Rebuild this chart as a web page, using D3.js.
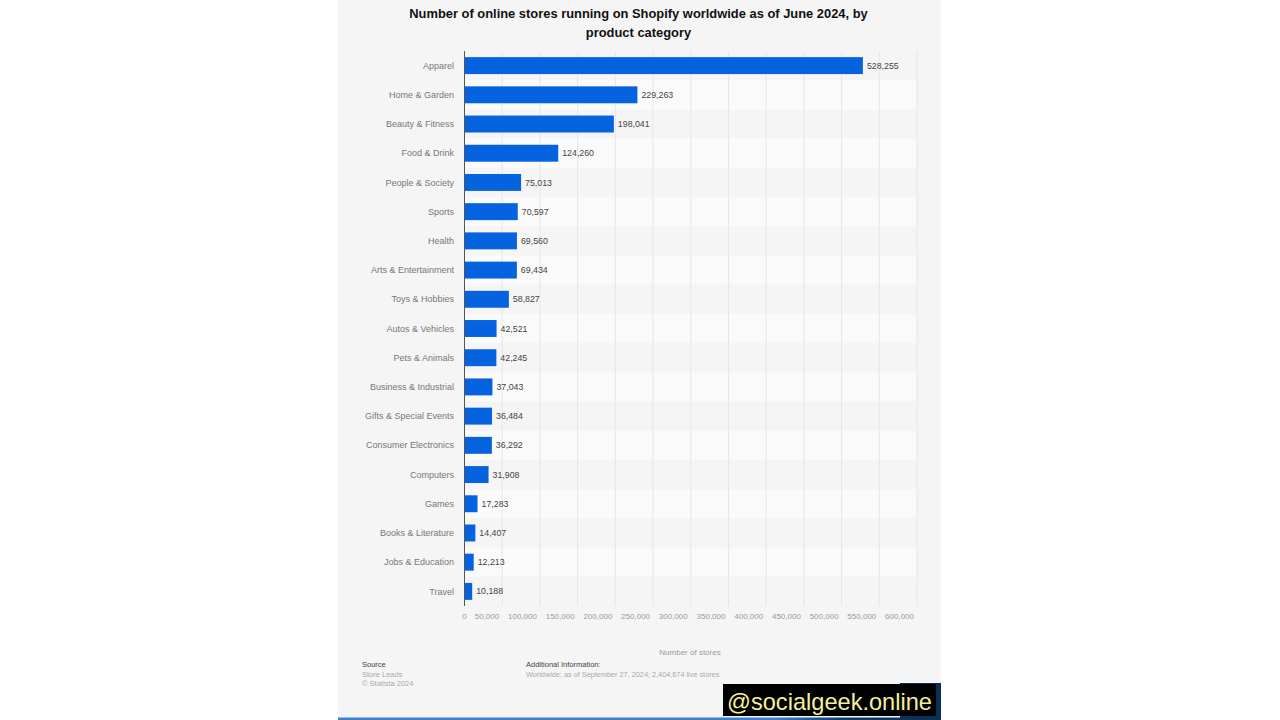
<!DOCTYPE html>
<html>
<head>
<meta charset="utf-8">
<script src="https://cdn.jsdelivr.net/npm/d3@7"></script>
<style>
html, body { margin: 0; padding: 0; background: #fff; }
svg { display: block; }
text { font-family: "Liberation Sans", Arial, sans-serif; }
</style>
</head>
<body>
<svg id="chart" width="1280" height="720"></svg>
<script>
var categories = ["Apparel", "Home & Garden", "Beauty & Fitness", "Food & Drink", "People & Society", "Sports", "Health",
  "Arts & Entertainment", "Toys & Hobbies", "Autos & Vehicles", "Pets & Animals", "Business & Industrial",
  "Gifts & Special Events", "Consumer Electronics", "Computers", "Games", "Books & Literature", "Jobs & Education", "Travel"];
var stores = [528255, 229263, 198041, 124260, 75013, 70597, 69560, 69434, 58827, 42521, 42245, 37043, 36484, 36292, 31908, 17283, 14407, 12213, 10188];
var xTicks = [0, 50000, 100000, 150000, 200000, 250000, 300000, 350000, 400000, 450000, 500000, 550000, 600000];
var titleLines = ["Number of online stores running on Shopify worldwide as of June 2024, by", "product category"];

var svg = d3.select("#chart");
var fmt = d3.format(",");

// panel
svg.append("rect").attr("x", 338).attr("y", 0).attr("width", 603).attr("height", 720).attr("fill", "#f5f5f5");

var x = d3.scaleLinear().domain([0, 600000]).range([464.5, 917]);
var y = d3.scaleBand().domain(categories).range([51, 606]).paddingInner(0.42).paddingOuter(0.21);
var rowStep = y.step();

// stripes behind the bars
svg.append("g").selectAll("rect").data(categories).enter().append("rect")
  .attr("x", x(0))
  .attr("y", function(d){ return y(d) - (rowStep - y.bandwidth()) / 2; })
  .attr("width", x(600000) - x(0))
  .attr("height", rowStep)
  .attr("fill", function(d, i){ return i % 2 ? "#fafafa" : "#f5f5f5"; });

// grid
svg.append("g").selectAll("line").data(xTicks.slice(1)).enter().append("line")
  .attr("x1", function(d){ return x(d); })
  .attr("x2", function(d){ return x(d); })
  .attr("y1", 51).attr("y2", 606)
  .attr("stroke", "#e6e6e6").attr("stroke-width", 1);

svg.selectAll(".bar").data(stores).enter().append("rect")
  .attr("class", "bar")
  .attr("x", x(0))
  .attr("y", function(d, i){ return y(categories[i]); })
  .attr("width", function(d){ return x(d) - x(0); })
  .attr("height", y.bandwidth())
  .attr("fill", "#0663e0");

svg.append("line").attr("x1", x(0)).attr("x2", x(0)).attr("y1", 51).attr("y2", 606)
  .attr("stroke", "#555").attr("stroke-width", 1);

svg.selectAll(".val").data(stores).enter().append("text")
  .attr("class", "val")
  .attr("x", function(d){ return x(d) + 4; })
  .attr("y", function(d, i){ return y(categories[i]) + y.bandwidth() / 2; })
  .attr("dy", "0.35em")
  .attr("font-size", 8.8)
  .attr("fill", "#444")
  .text(function(d){ return fmt(d); });

svg.selectAll(".cat").data(categories).enter().append("text")
  .attr("class", "cat")
  .attr("x", 454)
  .attr("y", function(d){ return y(d) + y.bandwidth() / 2; })
  .attr("dy", "0.35em")
  .attr("text-anchor", "end")
  .attr("font-size", 9)
  .attr("fill", "#777")
  .text(function(d){ return d; });

// tick labels sit just left of their gridline, only the 0 is centred
svg.selectAll(".tick-label").data(xTicks).enter().append("text")
  .attr("class", "tick-label")
  .attr("x", function(d){ return d === 0 ? x(d) : x(d) - 3; })
  .attr("y", 618.5)
  .attr("text-anchor", function(d){ return d === 0 ? "middle" : "end"; })
  .attr("font-size", 8)
  .attr("fill", "#999")
  .text(function(d){ return fmt(d); });

svg.selectAll(".title").data(titleLines).enter().append("text")
  .attr("class", "title")
  .attr("x", 638.5)
  .attr("y", function(d, i){ return 18 + i * 19; })
  .attr("text-anchor", "middle")
  .attr("font-size", 12.9)
  .attr("font-weight", "bold")
  .attr("fill", "#111")
  .text(function(d){ return d; });

svg.append("text").attr("x", 690).attr("y", 655).attr("text-anchor", "middle")
  .attr("font-size", 8).attr("fill", "#999").text("Number of stores");

function note(px, py, str, color, size){
  svg.append("text").attr("x", px).attr("y", py).attr("font-size", size).attr("fill", color).text(str);
}
note(362, 667, "Source", "#444", 7.5);
note(362, 677, "Store Leads", "#aaa", 7.5);
note(362, 686, "\u00a9 Statista 2024", "#aaa", 7.5);
note(526, 667, "Additional Information:", "#444", 7.5);
note(526, 677, "Worldwide; as of September 27, 2024; 2,404,674 live stores", "#aaa", 7.3);

// bottom strip and watermark
var grad = svg.append("defs").append("linearGradient").attr("id", "strip");
grad.append("stop").attr("offset", "0%").attr("stop-color", "#3f7fd0");
grad.append("stop").attr("offset", "72%").attr("stop-color", "#3f7fd0");
grad.append("stop").attr("offset", "84%").attr("stop-color", "#0f3a66");
grad.append("stop").attr("offset", "100%").attr("stop-color", "#0c2f55");
svg.append("rect").attr("x", 338).attr("y", 717.5).attr("width", 603).attr("height", 2.5).attr("fill", "url(#strip)");
svg.append("rect").attr("x", 900).attr("y", 683).attr("width", 41).attr("height", 35).attr("fill", "#0c2f55");
svg.append("rect").attr("x", 723).attr("y", 684).attr("width", 213).attr("height", 32).attr("fill", "#000");
svg.append("text").attr("x", 727).attr("y", 710).attr("font-size", 23.6).attr("fill", "#f5ef9a").text("@socialgeek.online");
</script>
</body>
</html>
